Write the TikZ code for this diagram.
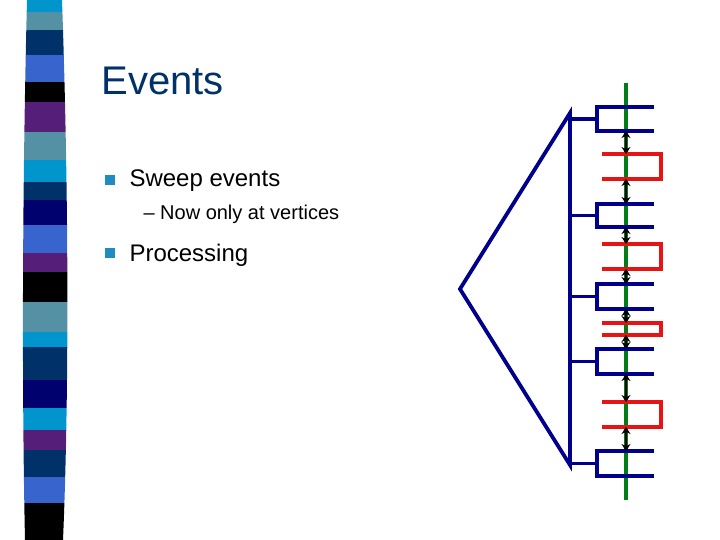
\documentclass[tikz,border=0pt]{standalone}
\usepackage{fontspec}
\setmainfont{Liberation Sans}
\usetikzlibrary{arrows.meta}
\definecolor{sCyan}{RGB}{0,150,205}
\definecolor{sTeal}{RGB}{85,145,165}
\definecolor{sDark}{RGB}{0,50,105}
\definecolor{sRoyal}{RGB}{55,100,205}
\definecolor{sPurple}{RGB}{85,30,120}
\definecolor{sNavy}{RGB}{0,0,110}
\definecolor{bBlue}{RGB}{0,0,140}
\definecolor{bRed}{RGB}{230,20,20}
\definecolor{bGreen}{RGB}{0,125,20}
\definecolor{bulletc}{RGB}{30,140,190}
\begin{document}
\begin{tikzpicture}
  [x=1pt,y=-1pt,
   blueline/.style={draw=bBlue,line width=3.8pt},
   redline/.style={draw=bRed,line width=3.8pt},
   gap/.style={draw=black,line width=2.6pt,>={Stealth[length=7pt,width=9pt]},<->},
   bullet/.style={fill=bulletc,minimum size=10pt,inner sep=0pt}]
  \useasboundingbox (0,0) rectangle (720,540);
  % side stripe
  \begin{scope}
    \clip (27,0) .. controls (22,200) and (22,400) .. (25,540) -- (63,540)
      .. controls (69,400) and (69,200) .. (62,0) -- cycle;
    \foreach \ya/\yb/\c in {0/12/sCyan,12/30/sTeal,30/55/sDark,55/82/sRoyal,82/102/black,
      102/132/sPurple,132/160/sTeal,160/182/sCyan,182/200/sDark,200/225/sNavy,
      225/253/sRoyal,253/272/sPurple,272/302/black,302/332/sTeal,332/347/sCyan,
      347/380/sDark,380/408/sNavy,408/430/sCyan,430/450/sPurple,450/477/sDark,
      477/503/sRoyal,503/540/black}
      \fill[\c] (0,\ya) rectangle (80,\yb);
  \end{scope}
  % text
  \node[anchor=base west,font=\fontsize{40}{46}\selectfont,text=sDark] (title) at (98,95) {Events};
  \node[bullet] (b1) at (110,180) {};
  \node[anchor=base west,font=\fontsize{24}{28}\selectfont] (sweep) at (126,187) {Sweep events};
  \node[anchor=base west,font=\fontsize{20}{24}\selectfont] (now) at (140,220) {-- Now only at vertices};
  \node[bullet] (b2) at (110,253) {};
  \node[anchor=base west,font=\fontsize{24}{28}\selectfont] (proc) at (126,261) {Processing};
  % sweep line
  \coordinate (gtop) at (626,83);
  \coordinate (gbot) at (626,500);
  \draw[draw=bGreen,line width=3.4pt] (gtop) -- (gbot);
  % tree
  \coordinate (apex) at (460,289);
  \coordinate (ttop) at (570,113);
  \coordinate (tbot) at (570,465);
  \draw[blueline,line join=miter] (ttop) -- (apex) -- (tbot) -- cycle;
  \foreach \t/\b [count=\i] in {107/131,204/227,284/309,349/374,451/476} {
    \draw[blueline] (654,\t) -- (597,\t) -- (597,\b) -- (654,\b);
    \draw[blueline] (570,{(\t+\b)/2}) -- (597,{(\t+\b)/2});
    \coordinate (bt\i) at (626,\t);
    \coordinate (bb\i) at (626,\b);
  }
  \foreach \t/\b [count=\i] in {154/179,244/269,323/335,402/427} {
    \draw[redline] (602,\t) -- (661,\t) -- (661,\b) -- (602,\b);
    \coordinate (rt\i) at (626,\t);
    \coordinate (rb\i) at (626,\b);
  }
  \draw[gap] (bb1) -- (rt1);
  \draw[gap] (rb1) -- (bt2);
  \draw[gap] (bb2) -- (rt2);
  \draw[gap] (rb2) -- (bt3);
  \draw[gap] (bb3) -- (rt3);
  \draw[gap] (rb3) -- (bt4);
  \draw[gap] (bb4) -- (rt4);
  \draw[gap] (rb4) -- (bt5);
\end{tikzpicture}
\end{document}
